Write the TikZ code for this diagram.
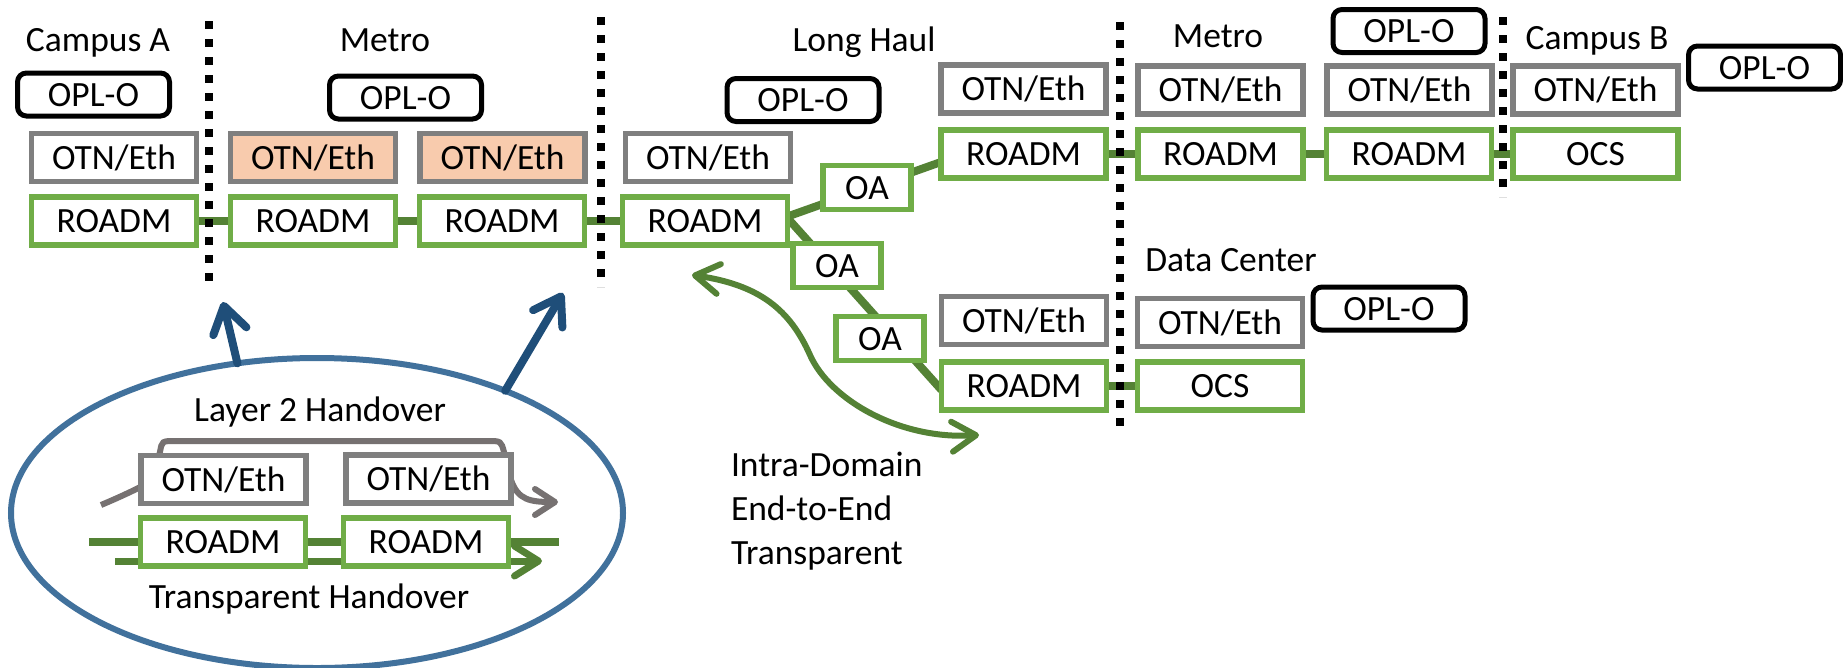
\documentclass[tikz,border=0pt]{standalone}
\usepackage{fontspec}
\setmainfont{Carlito}
\usetikzlibrary{arrows.meta,shapes.geometric,calc}
\definecolor{boxgray}{HTML}{7F7F7F}
\definecolor{boxgreen}{HTML}{70AD47}
\definecolor{linkgreen}{HTML}{548235}
\definecolor{peach}{HTML}{F8CBAD}
\definecolor{ringblue}{HTML}{41719C}
\definecolor{arrowblue}{HTML}{1F4E79}
\definecolor{pathgray}{HTML}{767171}
\pgfdeclarelayer{canvas}
\pgfdeclarelayer{links}
\pgfsetlayers{canvas,links,main}

\begin{document}
\begin{tikzpicture}[x=1pt,y=-1pt,
  every node/.style={inner sep=0pt, outer sep=0pt, font=\fontsize{35.5}{44}\selectfont},
  label/.style={text height=23pt, text depth=0pt},
  unit/.style={label, line width=5.5pt, fill=white, minimum width=165pt, minimum height=48pt},
  layerbox/.style={unit, draw=boxgray},
  optbox/.style={unit, draw=boxgreen},
  ampbox/.style={optbox, minimum width=88pt, minimum height=44pt},
  ctrlbox/.style={label, draw=black, line width=5pt, rounded corners=9pt, fill=white,
                  minimum width=152pt, minimum height=43pt},
  link/.style={draw=linkgreen, line width=8pt},
  divider/.style={draw=black, line width=8pt, dash pattern=on 8pt off 10pt},
  bluearrow/.style={draw=arrowblue, line width=8pt, line cap=round,
                    -{Straight Barb[round,length=26pt,width=34pt]}},
  e2e/.style={draw=linkgreen, line width=6pt,
              {Straight Barb[round,length=24pt,width=30pt]}-{Straight Barb[round,length=24pt,width=30pt]}},
  l2path/.style={draw=pathgray, line width=6pt,
                 -{Straight Barb[round,length=20pt,width=26pt]}},
]
\begin{pgfonlayer}{canvas}
  \fill[white] (0,0) rectangle (1843,667);
\end{pgfonlayer}
\useasboundingbox (0,0) rectangle (1843,667);

% ---------- domain headings ----------
\node[label] (hA)  at (98,40)    {Campus A};
\node[label] (hM)  at (385,40)   {Metro};
\node[label] (hLH) at (864,40)   {Long Haul};
\node[label] (hMR) at (1218,36)  {Metro};
\node[label] (hB)  at (1597,38)  {Campus B};
\node[label] (hDC) at (1231,260) {Data Center};

% ---------- Campus A ----------
\node[ctrlbox]  (oplA)   at (93.5,94.5)  {OPL-O};
\node[layerbox] (otnA)   at (114,157.5)  {OTN/Eth};
\node[optbox]   (roadmA) at (114,221)    {ROADM};

% ---------- Metro ----------
\node[ctrlbox]              (oplM)    at (405.5,97.5) {OPL-O};
\node[layerbox, fill=peach] (otnM1)   at (313,157.5)  {OTN/Eth};
\node[layerbox, fill=peach] (otnM2)   at (502.5,157.5){OTN/Eth};
\node[optbox]               (roadmM1) at (313,221)    {ROADM};
\node[optbox]               (roadmM2) at (502,221)    {ROADM};

% ---------- Long Haul ----------
\node[ctrlbox]  (oplLH)   at (803,100)    {OPL-O};
\node[layerbox] (otnLH)   at (708,157.5)  {OTN/Eth};
\node[optbox]   (roadmLH) at (705,221)    {ROADM};
\node[ampbox]   (oa1)     at (867,187.5)  {OA};
\node[ampbox]   (oa2)     at (837,265.5)  {OA};
\node[ampbox]   (oa3)     at (880,338.5)  {OA};
\node[layerbox] (otnLT)   at (1023.5,89)  {OTN/Eth};
\node[optbox]   (roadmLT) at (1023.5,154) {ROADM};
\node[layerbox] (otnLD)   at (1024,320.5) {OTN/Eth};
\node[optbox]   (roadmLD) at (1024,386)   {ROADM};

% ---------- Metro (far side) ----------
\node[layerbox] (otnR1)   at (1220.5,90)  {OTN/Eth};
\node[optbox]   (roadmR1) at (1220.5,154) {ROADM};
\node[ctrlbox]  (oplR)    at (1409,31)    {OPL-O};
\node[layerbox] (otnR2)   at (1409.5,90)  {OTN/Eth};
\node[optbox]   (roadmR2) at (1409,154)   {ROADM};

% ---------- Campus B ----------
\node[layerbox] (otnB) at (1595.5,90)  {OTN/Eth};
\node[optbox]   (ocsB) at (1595.5,154) {OCS};
\node[ctrlbox]  (oplB) at (1764.5,67.5){OPL-O};

% ---------- Data Center ----------
\node[layerbox] (otnD) at (1220,322.5) {OTN/Eth};
\node[optbox]   (ocsD) at (1220,386)   {OCS};
\node[ctrlbox]  (oplD) at (1389,308.5) {OPL-O};

% ---------- fibre links ----------
\begin{pgfonlayer}{links}
  \draw[link] (roadmA) -- (roadmM1) -- (roadmM2) -- (roadmLH);
  \draw[link] ([yshift=4.5pt]roadmLH.east) -- ([yshift=-8pt]roadmLT.west);
  \draw[link] ([yshift=3pt]roadmLH.east) -- ([yshift=-4pt]roadmLD.west);
  \draw[link] (roadmLT) -- (roadmR1) -- (roadmR2) -- (ocsB);
  \draw[link] (roadmLD) -- (ocsD);
\end{pgfonlayer}

% ---------- domain boundaries ----------
\draw[divider] (209,21) -- (209,290);
\draw[divider] (601,17) -- (601,287);
\draw[divider] (1120,22) -- (1120,435);
\draw[divider] (1503,17) -- (1503,197);

% ---------- end-to-end transparent path ----------
\coordinate (e2eA) at (692,275);
\coordinate (e2eB) at (979,435);
\draw[e2e] (e2eA) .. controls (760,285) and (790,310) .. (810,355)
                  .. controls (830,400) and (900,440) .. (e2eB);
\node[align=left, anchor=west] (e2eText) at (731,511)
  {Intra-Domain\\End-to-End\\Transparent};

% ---------- handover detail ----------
\node[ellipse, draw=ringblue, line width=6pt, minimum width=612pt,
      minimum height=310pt] (handover) at (317,513) {};
\coordinate (tipA) at (223,302);
\coordinate (tipB) at (563,293);
\draw[bluearrow] (handover.118) -- (tipA);
\draw[bluearrow] (handover.33) -- (tipB);

\node[label] (l2Label) at (320,410) {Layer 2 Handover};
\node[layerbox] (hoOtnA)   at (223.5,479.5) {OTN/Eth};
\node[layerbox] (hoOtnB)   at (428.5,479)   {OTN/Eth};
\node[optbox]   (hoRoadmA) at (223,542)     {ROADM};
\node[optbox]   (hoRoadmB) at (426,542)     {ROADM};
\node[label] (thLabel) at (309,597) {Transparent Handover};

\coordinate (l2In)  at (101,505);
\coordinate (l2Out) at (558,502);
\coordinate (thIn)  at (89,542);
\coordinate (thOut) at (558.5,542);
\coordinate (thIn2) at (115,561);
\coordinate (thOut2) at (542,561);
\begin{pgfonlayer}{links}
  \draw[l2path] (l2In) .. controls (120,497) and (135,490) .. (150,482)
     -- (160,452) .. controls (162,441) .. (175,441) -- (488,441)
     .. controls (501,441) .. (504,452) -- (511,480)
     .. controls (518,500) and (530,502) .. (l2Out);
  \draw[link] (thIn) -- (thOut);
  \draw[link, line width=7pt, -{Straight Barb[round,length=24pt,width=30pt]}] (thIn2) -- (thOut2);
\end{pgfonlayer}
\end{tikzpicture}
\end{document}
